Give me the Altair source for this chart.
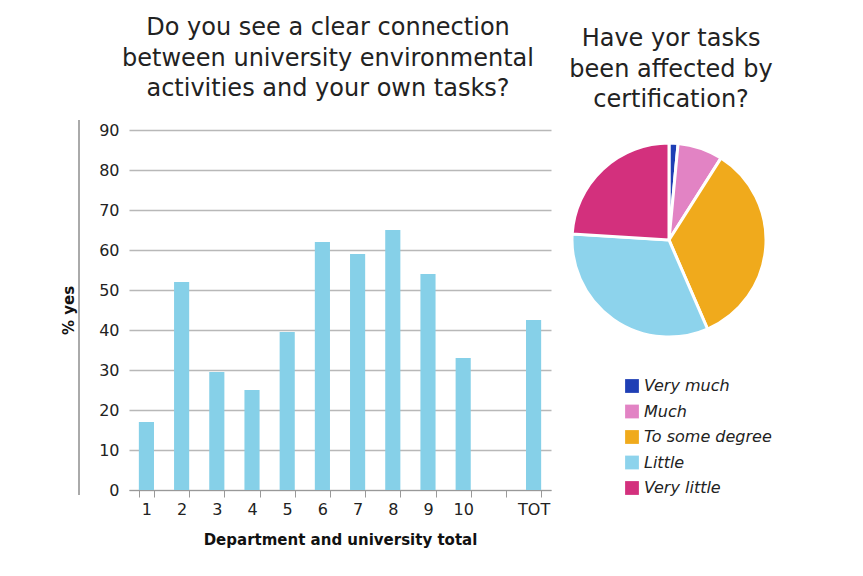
import altair as alt
import pandas as pd

# Bar chart data
departments = ["1", "2", "3", "4", "5", "6", "7", "8", "9", "10", " ", "TOT"]
pct_yes = [17, 52, 29.5, 25, 39.5, 62, 59, 65, 54, 33, None, 42.5]

# Pie chart data
answers = ["Very much", "Much", "To some degree", "Little", "\u00a0Very little"]
shares = [1.5, 7.5, 34.5, 32.5, 24]
answer_colors = ["#1f3fb5", "#e283c4", "#f0aa1c", "#8dd3ec", "#d3307d"]

FONT = "DejaVu Sans"

bar_df = pd.DataFrame({"dept": departments, "pct": pct_yes})
pie_df = pd.DataFrame({"answer": answers, "share": shares, "order": list(range(len(answers)))})

bars = alt.Chart(bar_df).mark_bar(color="#86d0e8").encode(
    x=alt.X("dept:N", sort=departments,
            scale=alt.Scale(domain=departments, paddingInner=0.57, paddingOuter=0.28),
            axis=alt.Axis(title="Department and university total", labelAngle=0,
                          tickBand="extent", ticks=True, tickSize=7, tickColor="#999",
                          domainColor="#999", labelFontSize=16, labelColor="#222",
                          labelPadding=4, titleFontSize=15, titleFontWeight="bold",
                          titleColor="#111", titlePadding=15, labelFont=FONT, titleFont=FONT)),
    y=alt.Y("pct:Q", scale=alt.Scale(domain=[0, 90]),
            axis=alt.Axis(title="% yes", values=list(range(0, 100, 10)), ticks=False,
                          domain=False, gridColor="#b8b8b8", gridWidth=1.3,
                          labelFontSize=16, labelColor="#222", labelPadding=10,
                          titleFontSize=15, titleFontWeight="bold", titleColor="#111",
                          titlePadding=22, labelFont=FONT, titleFont=FONT)),
)

side_rule = alt.Chart(bar_df).mark_rule(color="#aaa", strokeWidth=1.2).encode(
    x=alt.value(-50), y=alt.value(-10), y2=alt.value(365)
)

bar_chart = alt.layer(side_rule, bars).properties(
    width=422, height=360,
    title=alt.TitleParams(
        ["Do you see a clear connection", "between university environmental",
         "activities and your own tasks?"],
        fontSize=24, font=FONT, fontWeight="normal", color="#222", lineHeight=30.5,
        anchor="middle", dx=-12, offset=18),
)

pie = alt.Chart(pie_df).mark_arc(radius=97, stroke="white", strokeWidth=3).encode(
    theta=alt.Theta("share:Q", stack=True),
    order=alt.Order("order:Q"),
    color=alt.Color("answer:N", sort=answers,
                    scale=alt.Scale(domain=answers, range=answer_colors),
                    legend=alt.Legend(title=None, orient="none", legendX=495, legendY=248,
                                      symbolType="square", symbolSize=190,
                                      symbolStrokeWidth=0, labelFontSize=16,
                                      labelFontStyle="italic", labelFont=FONT,
                                      labelColor="#222", rowPadding=9.5)),
    x=alt.value(98), y=alt.value(110),
).properties(
    width=200, height=360,
    title=alt.TitleParams(
        ["Have yor tasks", "been affected by", "certification?"],
        fontSize=24, font=FONT, fontWeight="normal", color="#222", lineHeight=30.5,
        anchor="middle", offset=18),
)

chart = alt.hconcat(bar_chart, pie, spacing=15).configure_view(
    strokeWidth=0, stroke="transparent"
).properties(
    padding={"left": 53, "top": 8, "right": 5, "bottom": 5},
    background="white",
)

chart.save("out.html", embed_options={"renderer": "svg", "actions": False})
